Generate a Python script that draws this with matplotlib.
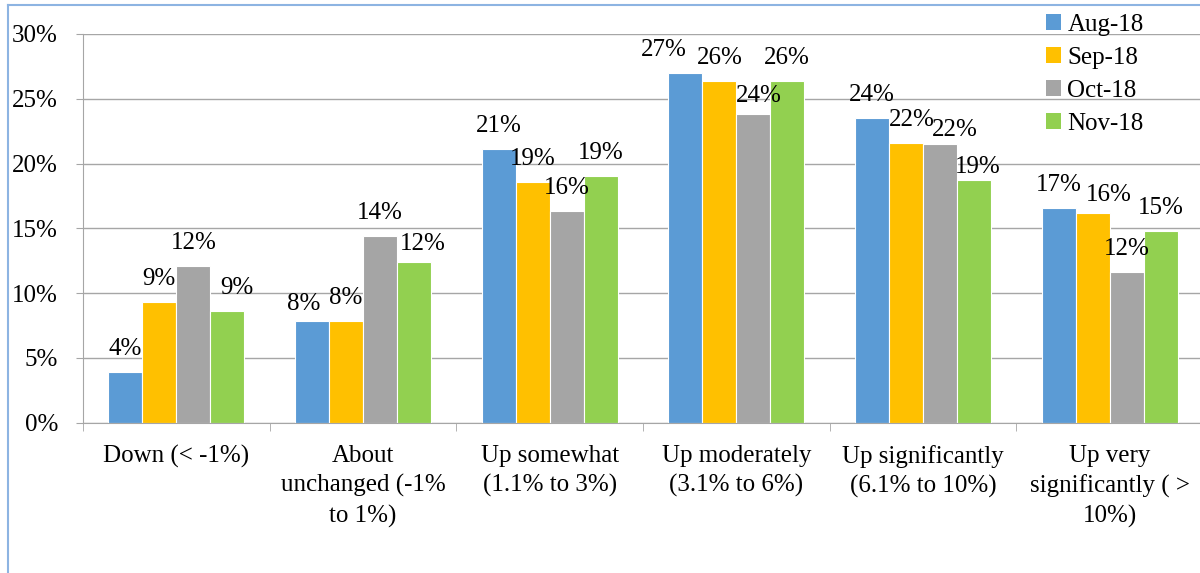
import numpy as np
import matplotlib
matplotlib.use("Agg")
import matplotlib.pyplot as plt
from matplotlib.patches import Patch
from matplotlib.lines import Line2D

plt.rcParams['font.family'] = ['Liberation Serif', 'DejaVu Serif']

# categories and series (percent)
categories = ["Down (< -1%)", "About\nunchanged (-1%\nto 1%)", "Up somewhat\n(1.1% to 3%)",
              "Up moderately\n(3.1% to 6%)", "Up significantly\n(6.1% to 10%)",
              "Up very\nsignificantly ( >\n10%)"]
months = ["Aug-18", "Sep-18", "Oct-18", "Nov-18"]
aug18 = [3.9, 7.8, 21.1, 27.0, 23.5, 16.6]
sep18 = [9.3, 7.8, 18.6, 26.4, 21.6, 16.2]
oct18 = [12.1, 14.4, 16.3, 23.8, 21.5, 11.6]
nov18 = [8.6, 12.4, 19.0, 26.4, 18.7, 14.8]
series = [aug18, sep18, oct18, nov18]
colors = ["#5B9BD5", "#FFC000", "#A5A5A5", "#92D050"]

# label nudges (pixels) where the labels were moved by hand: (series, category): (dx, dy)
nudge = {(3, 0): (10, 0), (0, 1): (-8, -6), (3, 1): (9, -5), (0, 3): (-22, 0),
         (2, 3): (6, -5), (1, 4): (6, 0), (2, 4): (15, -9), (3, 4): (4, -10),
         (1, 5): (16, -5)}

FS = 18

fig = plt.figure(figsize=(12, 5.73), dpi=100)
ax = fig.add_axes([83/1200, 1-422.5/573, (1203-83)/1200, (422.5-34)/573])

x = np.arange(len(categories))
w = 1/5.5
for i, vals in enumerate(series):
    xs = x + (i - 1.5)*w
    ax.bar(xs, vals, w, color=colors[i], edgecolor='white', linewidth=0.8, zorder=3)
    for j, v in enumerate(vals):
        dx, dy = nudge.get((i, j), (0, 0))
        ax.annotate("%d%%" % round(v), (xs[j], v), xytext=(dx, 23 + dy),
                    textcoords='offset pixels', ha='center', va='center',
                    fontsize=FS, zorder=4)

ax.set_xlim(-0.5, len(categories) - 0.5)
ax.set_ylim(0, 30)
ax.set_yticks(np.arange(0, 31, 5))
ax.set_yticklabels(["%d%%" % t for t in range(0, 31, 5)], fontsize=FS)
ax.grid(axis='y', color='#A6A6A6', linewidth=1.0, zorder=0)
ax.set_xticks(x)
ax.set_xticklabels(categories, fontsize=FS, linespacing=1.42, va='top')
ax.set_xticks(np.arange(-0.5, len(categories)), minor=True)
ax.tick_params(axis='x', which='major', length=0, pad=16)
ax.tick_params(axis='x', which='minor', length=6, color='#A6A6A6')
ax.tick_params(axis='y', length=5, color='#A6A6A6', pad=13)
for s in ['top', 'right']:
    ax.spines[s].set_visible(False)
for s in ['left', 'bottom']:
    ax.spines[s].set_color('#A6A6A6')
    ax.spines[s].set_zorder(5)

handles = [Patch(facecolor=c, edgecolor='none') for c in colors]
ax.legend(handles, months, loc='upper left', bbox_to_anchor=(1046/1200, 1-14/573),
          bbox_transform=fig.transFigure, frameon=False, fontsize=FS,
          handlelength=0.6, handleheight=0.6, handletextpad=0.25,
          labelspacing=0.44, borderpad=0, borderaxespad=0)

# outer frame (left and top edges)
fig.add_artist(Line2D([8/1200, 8/1200], [0, 1-5/573], color='#8DB4E2', lw=1.5))
fig.add_artist(Line2D([8/1200, 1], [1-5/573, 1-5/573], color='#8DB4E2', lw=1.5))

fig.savefig("out.png", dpi=100)
